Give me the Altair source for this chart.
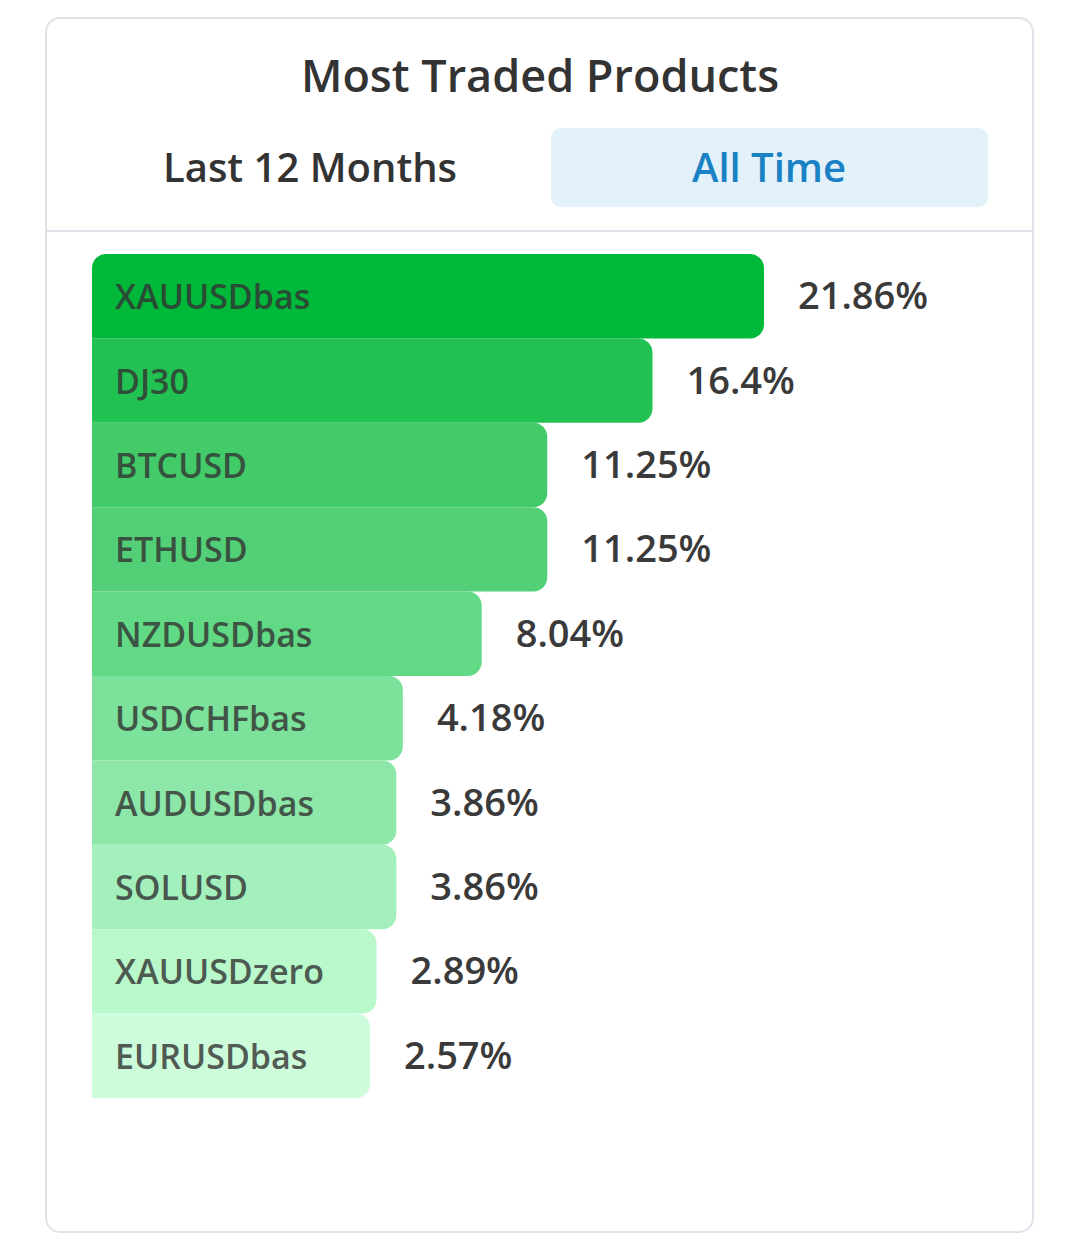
import altair as alt
import pandas as pd

products = ["XAUUSDbas", "DJ30", "BTCUSD", "ETHUSD", "NZDUSDbas",
            "USDCHFbas", "AUDUSDbas", "SOLUSD", "XAUUSDzero", "EURUSDbas"]
shares = [21.86, 16.4, 11.25, 11.25, 8.04, 4.18, 3.86, 3.86, 2.89, 2.57]
share_labels = ["21.86%", "16.4%", "11.25%", "11.25%", "8.04%",
                "4.18%", "3.86%", "3.86%", "2.89%", "2.57%"]
bar_colors = ["#00B83A", "#22C252", "#43CB6A", "#53D077", "#62DA85",
              "#7CE19A", "#8DE7A8", "#A4F0BC", "#B8F8CA", "#CCFCD9"]

title_text = "Most Traded Products"
tab_labels = ["Last 12 Months", "All Time"]

FONT = "Open Sans"
W, H = 1064, 1227
X_MIN, X_MAX = -11.04, 21.86

df = pd.DataFrame({
    "product": products,
    "share": shares,
    "label": share_labels,
    "rank": list(range(len(products))),
})

one = pd.DataFrame({"k": [0]})

# card frame
card = alt.Chart(one).mark_rect(
    fill="white", stroke="#DDE3E8", strokeWidth=2, cornerRadius=14
).encode(x=alt.value(38), x2=alt.value(1025), y=alt.value(10), y2=alt.value(1224))

divider = alt.Chart(one).mark_rule(color="#DDE3E8", strokeWidth=2).encode(
    x=alt.value(38), x2=alt.value(1025), y=alt.value(223)
)

title = alt.Chart(one).mark_text(
    text=title_text, font=FONT, fontSize=45, fontWeight=600, color="#333333",
    align="center", baseline="middle"
).encode(x=alt.value(532), y=alt.value(70))

tab_bg = alt.Chart(one).mark_rect(fill="#E3F1FA", cornerRadius=10).encode(
    x=alt.value(543), x2=alt.value(980), y=alt.value(120), y2=alt.value(199)
)

tab1 = alt.Chart(one).mark_text(
    text=tab_labels[0], font=FONT, fontSize=40, fontWeight=600, color="#333333",
    align="center", baseline="middle"
).encode(x=alt.value(302), y=alt.value(162))

tab2 = alt.Chart(one).mark_text(
    text=tab_labels[1], font=FONT, fontSize=40, fontWeight=600, color="#1A82C4",
    align="center", baseline="middle"
).encode(x=alt.value(761), y=alt.value(162))

xs = alt.Scale(domain=[X_MIN, X_MAX], range=[84, 756], zero=False, nice=False)
ys = alt.Scale(domain=products, range=[246, 1090], paddingInner=0, paddingOuter=0)
cs = alt.Scale(domain=products, range=bar_colors)

base = alt.Chart(df)

enc = dict(
    x=alt.X("share:Q", scale=xs, axis=None),
    x2=alt.datum(X_MIN),
    y=alt.Y("product:N", scale=ys, axis=None, sort=products),
    color=alt.Color("product:N", scale=cs, legend=None),
)

bars_rest = base.transform_filter("datum.rank > 0").mark_bar(
    cornerRadiusTopRight=14, cornerRadiusBottomRight=14
).encode(**enc)

bar_first = base.transform_filter("datum.rank == 0").mark_bar(
    cornerRadiusTopRight=14, cornerRadiusBottomRight=14, cornerRadiusTopLeft=14
).encode(**enc)

names = base.mark_text(
    font=FONT, fontSize=34, fontWeight=600, color="#333333", opacity=0.8,
    align="left", baseline="middle", dy=3
).encode(
    x=alt.value(107),
    y=alt.Y("product:N", scale=ys, axis=None, sort=products, bandPosition=0.5),
    text="product:N",
)

values = base.mark_text(
    font=FONT, fontSize=38, fontWeight=600, color="#3A3A3A",
    align="left", baseline="middle", dx=34, dy=2
).encode(
    x=alt.X("share:Q", scale=xs, axis=None),
    y=alt.Y("product:N", scale=ys, axis=None, sort=products, bandPosition=0.5),
    text="label:N",
)

chart = alt.layer(
    card, divider, title, tab_bg, tab1, tab2, bars_rest, bar_first, names, values
).properties(
    width=W, height=H, autosize=alt.AutoSizeParams(type="none"), padding=0,
    background="white"
).configure_view(stroke=None)

chart.save("out.html", embed_options={"renderer": "svg", "actions": False})
